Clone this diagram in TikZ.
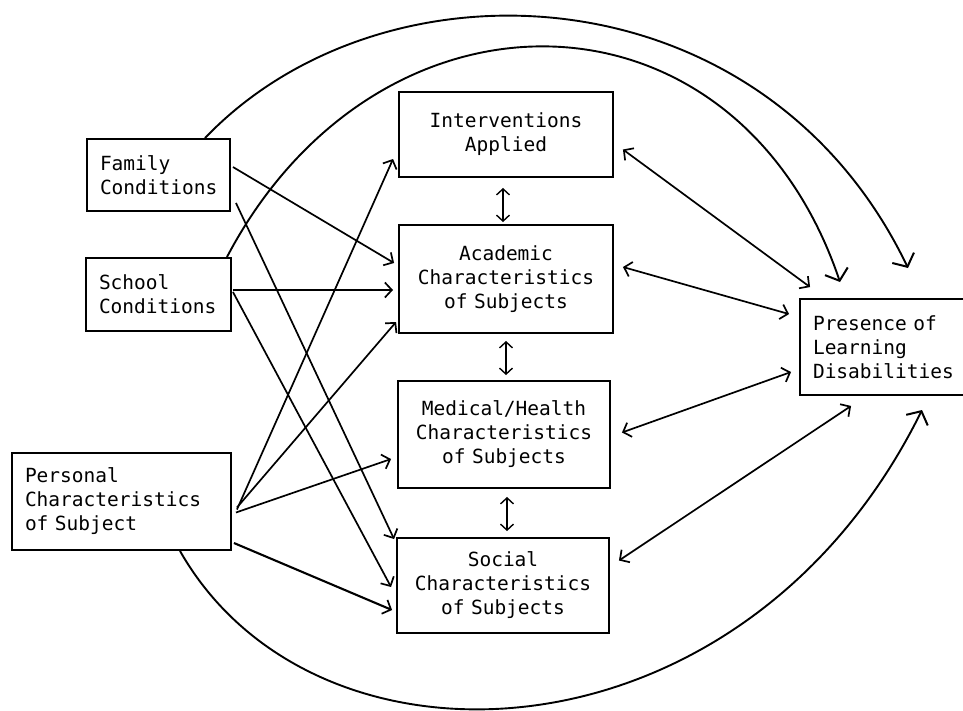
\documentclass[tikz,border=0pt]{standalone}
\usepackage{fontspec}
\newfontfamily\monofont{DejaVu Sans Mono}
\usetikzlibrary{arrows.meta,calc}
\tikzset{
  box/.style={draw, line width=1.9pt, inner xsep=13pt, inner ysep=0pt,
    font=\monofont\fontsize{19.5}{24}\selectfont},
  lbox/.style={box, align=left},
  cbox/.style={box, align=center},
  arr/.style={line width=1.7pt, -{Straight Barb[length=7pt,width=15pt,line width=1.7pt]}},
  dbl/.style={line width=1.7pt, {Straight Barb[length=7pt,width=15pt,line width=1.7pt]}-{Straight Barb[length=7pt,width=15pt,line width=1.7pt]}},
  vdbl/.style={line width=1.3pt, {Straight Barb[length=6pt,width=13pt,line width=1.4pt]}-{Straight Barb[length=6pt,width=13pt,line width=1.4pt]}},
  bigarc/.style={line width=1.9pt, -{Straight Barb[length=10pt,width=24pt,line width=2pt]}}
}
\begin{document}
\begin{tikzpicture}[x=1pt,y=-1pt]
\useasboundingbox[fill=white] (0,0) rectangle (963,710);
\clip (0,0) rectangle (963,710);

% nodes
\node[lbox, text width=117pt, minimum height=72pt] (fam) at (158.5,175) {Family\\Conditions};
\node[lbox, text width=119pt, minimum height=73pt] (sch) at (158.5,294.5) {School\\Conditions};
\node[lbox, text width=193pt, minimum height=97pt] (pers) at (121.5,501.5) {Personal\\Characteristics\\of Subject};
\node[cbox, text width=188pt, minimum height=85pt] (int) at (506,134.5) {Interventions\\Applied};
\node[cbox, text width=188pt, minimum height=108pt] (acad) at (506,279) {Academic\\Characteristics\\of Subjects};
\node[cbox, text width=186pt, minimum height=107pt] (med) at (504,434.5) {Medical/Health\\Characteristics\\of Subjects};
\node[cbox, text width=186pt, minimum height=95pt] (soc) at (503,585.5) {Social\\Characteristics\\of Subjects};
\node[lbox, text width=154pt, minimum height=96pt] (pres) at (890,347) {Presence of\\Learning\\Disabilities};

% free ends of the arcs
\coordinate (o1) at (908,268);
\coordinate (i1) at (840,282);
\coordinate (b1) at (922,410);

% big arcs
\draw[bigarc] ([shift={(46.5,0)}]fam.north) .. controls (385,-50) and (764,-32) .. (o1);
\draw[bigarc] ([shift={(-5,0)}]sch.north east) .. controls (378,-30) and (736,-25) .. (i1);
\draw[bigarc] ([shift={(58.5,0)}]pers.south) .. controls (316,790) and (744,770) .. (b1);

% vertical double arrows
\draw[vdbl] ([shift={(-3,10)}]int.south) -- ([shift={(-3,-2)}]acad.north);
\draw[vdbl] ([shift={(0,7)}]acad.south) -- ([shift={(2,-5)}]med.north);
\draw[vdbl] ([shift={(3,8)}]med.south) -- ([shift={(4,-6)}]soc.north);

% double arrows to Presence
\draw[dbl] ([shift={(9,15)}]int.east) -- ([shift={(11,-11)}]pres.north west);
\draw[dbl] ([shift={(9,-12)}]acad.east) -- ([shift={(-10,16)}]pres.north west);
\draw[dbl] ([shift={(11,-2)}]med.east) -- ([shift={(-8,25)}]pres.west);
\draw[dbl] ([shift={(9,-25)}]soc.east) -- ([shift={(52,10)}]pres.south west);

% left side arrows
\draw[arr] ([shift={(2,-8)}]fam.east) -- ([shift={(-4,-16)}]acad.west);
\draw[arr] ([shift={(5,-9)}]fam.south east) -- ([shift={(-2,2)}]soc.north west);
\draw[arr] ([shift={(1,-4.5)}]sch.east) -- ([shift={(-5,11)}]acad.west);
\draw[arr] ([shift={(1,-2.5)}]sch.east) -- ([shift={(-5,1.5)}]soc.west);
\draw[arr] ([shift={(5,8)}]pers.east) -- ([shift={(-5,24.5)}]int.west);
\draw[arr] ([shift={(5,6)}]pers.east) -- ([shift={(-2,43)}]acad.west);
\draw[arr] ([shift={(4,11)}]pers.east) -- ([shift={(-6,24.5)}]med.west);
\draw[arr, line width=2.1pt] ([shift={(2,41.5)}]pers.east) -- ([shift={(-4,24.5)}]soc.west);
\end{tikzpicture}
\end{document}
